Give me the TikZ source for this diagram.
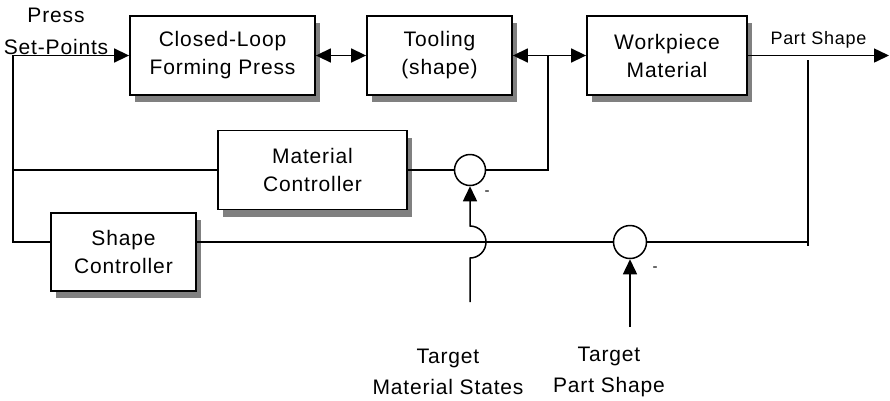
\documentclass[tikz,border=0pt]{standalone}
\usepackage{fontspec}
\setmainfont{Liberation Sans}[LetterSpace=4]
\usetikzlibrary{arrows.meta,shadows}

\begin{document}
\begin{tikzpicture}[x=1pt,y=-1pt,
  block/.style={draw, line width=1.8pt, fill=white, align=center, inner sep=0pt,
    font=\fontsize{21}{28}\selectfont,
    drop shadow={shadow xshift=5pt, shadow yshift=-7pt, fill=black!50, opacity=1}},
  sumpt/.style={draw, circle, line width=1.5pt, minimum size=31pt, inner sep=0pt},
  sig/.style={line width=1.5pt},
  tip/.style={-{Triangle[length=15pt,width=14pt]}},
  tips/.style={{Triangle[length=15pt,width=14pt]}-{Triangle[length=15pt,width=14pt]}},
  lbl/.style={align=center, font=\fontsize{21}{31}\selectfont}]
\useasboundingbox (0,0) rectangle (890,400);

% blocks
\node[block, minimum width=185pt, minimum height=79pt] (press) at (222.5,55.5) {Closed-Loop\\Forming Press};
\node[block, minimum width=145pt, minimum height=79pt] (tool) at (439.5,55.5) {Tooling\\(shape)};
\node[block, minimum width=160pt, minimum height=79pt] (work) at (667,55.5) {Workpiece\\Material};
\node[block, minimum width=189pt, minimum height=79pt] (matctl) at (312.5,170) {Material\\Controller};
\node[block, minimum width=145pt, minimum height=78pt] (shapectl) at (123.5,252) {Shape\\Controller};

% summing points
\node[sumpt] (matsum) at (470,170) {};
\node[sumpt, minimum size=33pt] (shapesum) at (630,242) {};

\coordinate (lft) at (13,242);
\coordinate (jn) at (548,55.5);
\coordinate (out) at (889,55.5);
\coordinate (fbtop) at (808,60);
\coordinate (fbbot) at (808,246);
\coordinate (jumpbot) at (470,258);
\coordinate (tmat) at (470,302);
\coordinate (tshape) at (630,327);

% forward path
\draw[sig, tip] (shapectl.west |- lft) -- (lft) |- (press.west);
\draw[sig, tips] (press.east) -- (tool.west);
\draw[sig, tips] (tool.east) -- (work.west);
\draw[sig, tip] (work.east) -- (out)
  node[pos=0.5, above=3pt, font=\fontsize{18}{20}\selectfont] (partout) {Part Shape};

% material loop
\draw[sig] (lft |- matctl) -- (matctl.west);
\draw[sig] (matctl.east) -- (matsum.west);
\draw[sig] (matsum.east) -| (jn);
\draw[sig, tip] (tmat) -- (jumpbot) arc[start angle=90, end angle=-90, radius=16] -- (matsum.south);

% shape loop
\draw[sig] (shapectl.east |- lft) -- (shapesum.west);
\draw[sig] (shapesum.east) -- (fbbot |- shapesum);
\draw[sig] (fbtop) -- (fbbot);
\draw[sig, tip] (tshape) -- (shapesum.south);

% signs and labels
\node[font=\fontsize{15}{15}\selectfont] (matneg) at (487,193) {-};
\node[font=\fontsize{15}{15}\selectfont] (shapeneg) at (655,269) {-};
\node[lbl, font=\fontsize{21}{32}\selectfont] (setpt) at (56,31) {Press\\Set-Points};
\node[lbl] (tgtmat) at (448,372) {Target\\Material States};
\node[lbl] (tgtshape) at (609,372) {Target\\Part Shape};
\end{tikzpicture}
\end{document}
